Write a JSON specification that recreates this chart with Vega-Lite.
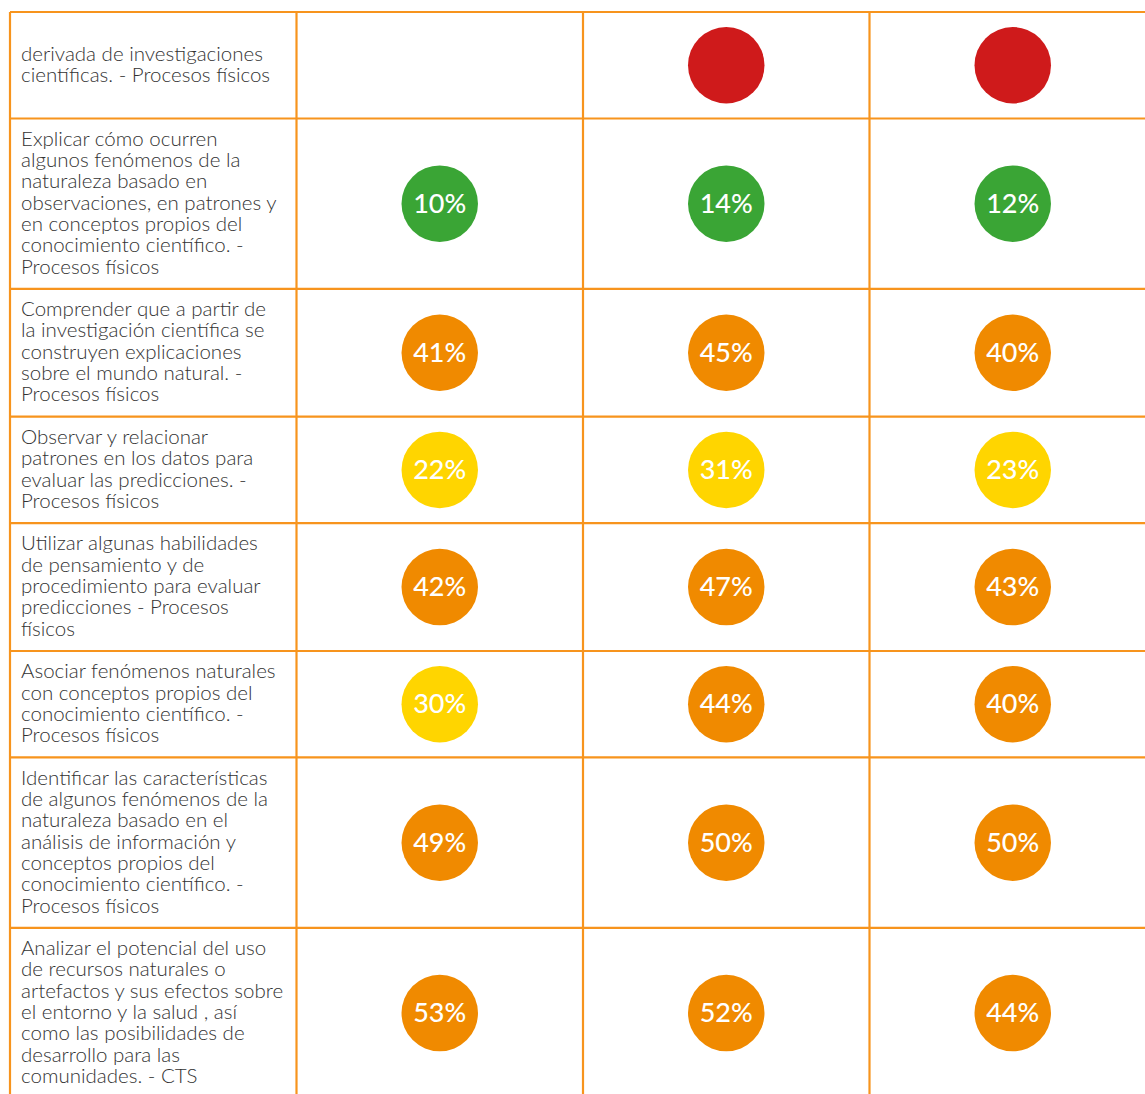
{
  "$schema": "https://vega.github.io/schema/vega-lite/v6.json",
  "width": 1146,
  "height": 1082,
  "autosize": {"type": "none"},
  "padding": {"left": 10, "top": 12, "right": 0, "bottom": 0},
  "background": "#ffffff",
  "config": {"view": {"stroke": null}},
  "datasets": {
    "filas": [
      {"fila": 1, "alto": 5, "texto": ["", "derivada de investigaciones", "científicas. - Procesos físicos"]},
      {"fila": 2, "alto": 8, "texto": ["Explicar cómo ocurren", "algunos fenómenos de la", "naturaleza basado en", "observaciones, en patrones y", "en conceptos propios del", "conocimiento científico. -", "Procesos físicos"]},
      {"fila": 3, "alto": 6, "texto": ["Comprender que a partir de", "la investigación científica se", "construyen explicaciones", "sobre el mundo natural. -", "Procesos físicos"]},
      {"fila": 4, "alto": 5, "texto": ["Observar y relacionar", "patrones en los datos para", "evaluar las predicciones. -", "Procesos físicos"]},
      {"fila": 5, "alto": 6, "texto": ["Utilizar algunas habilidades", "de pensamiento y de", "procedimiento para  evaluar", "predicciones - Procesos", "físicos"]},
      {"fila": 6, "alto": 5, "texto": ["Asociar fenómenos naturales", "con conceptos propios del", "conocimiento científico. -", "Procesos físicos"]},
      {"fila": 7, "alto": 8, "texto": ["Identificar las características", "de algunos fenómenos de la", "naturaleza basado en el", "análisis de información  y", "conceptos propios del", "conocimiento científico. -", "Procesos físicos"]},
      {"fila": 8, "alto": 8, "texto": ["Analizar  el potencial del uso", "de recursos  naturales  o", "artefactos  y sus efectos sobre", "el entorno y la salud , así", "como las posibilidades de", "desarrollo para las", "comunidades. - CTS"]}
    ],
    "celdas": [
      {"fila": 1, "columna": "A", "valor": null, "nivel": "vacio"},
      {"fila": 1, "columna": "B", "valor": null, "nivel": "rojo"},
      {"fila": 1, "columna": "C", "valor": null, "nivel": "rojo"},
      {"fila": 2, "columna": "A", "valor": 0.10, "nivel": "verde"},
      {"fila": 2, "columna": "B", "valor": 0.14, "nivel": "verde"},
      {"fila": 2, "columna": "C", "valor": 0.12, "nivel": "verde"},
      {"fila": 3, "columna": "A", "valor": 0.41, "nivel": "naranja"},
      {"fila": 3, "columna": "B", "valor": 0.45, "nivel": "naranja"},
      {"fila": 3, "columna": "C", "valor": 0.40, "nivel": "naranja"},
      {"fila": 4, "columna": "A", "valor": 0.22, "nivel": "amarillo"},
      {"fila": 4, "columna": "B", "valor": 0.31, "nivel": "amarillo"},
      {"fila": 4, "columna": "C", "valor": 0.23, "nivel": "amarillo"},
      {"fila": 5, "columna": "A", "valor": 0.42, "nivel": "naranja"},
      {"fila": 5, "columna": "B", "valor": 0.47, "nivel": "naranja"},
      {"fila": 5, "columna": "C", "valor": 0.43, "nivel": "naranja"},
      {"fila": 6, "columna": "A", "valor": 0.30, "nivel": "amarillo"},
      {"fila": 6, "columna": "B", "valor": 0.44, "nivel": "naranja"},
      {"fila": 6, "columna": "C", "valor": 0.40, "nivel": "naranja"},
      {"fila": 7, "columna": "A", "valor": 0.49, "nivel": "naranja"},
      {"fila": 7, "columna": "B", "valor": 0.50, "nivel": "naranja"},
      {"fila": 7, "columna": "C", "valor": 0.50, "nivel": "naranja"},
      {"fila": 8, "columna": "A", "valor": 0.53, "nivel": "naranja"},
      {"fila": 8, "columna": "B", "valor": 0.52, "nivel": "naranja"},
      {"fila": 8, "columna": "C", "valor": 0.44, "nivel": "naranja"}
    ]
  },
  "data": {"name": "filas"},
  "layer": [
    {
      "data": {"values": [{"columna": "Aprendizaje"}, {"columna": "A"}, {"columna": "B"}, {"columna": "C"}]},
      "mark": {"type": "rule", "color": "#F7941D", "strokeWidth": 2.2},
      "encoding": {
        "x": {"field": "columna", "type": "nominal", "bandPosition": 0, "axis": null,
              "scale": {"domain": ["Aprendizaje", "A", "B", "C"], "paddingInner": 0, "paddingOuter": 0}}
      }
    },
    {
      "mark": {"type": "rule", "color": "#F7941D", "strokeWidth": 2.2},
      "encoding": {
        "y": {"field": "alto", "type": "quantitative", "stack": "zero", "bandPosition": 0, "axis": null,
              "scale": {"domain": [0, 50.8], "reverse": true, "nice": false, "zero": false}},
        "order": {"field": "fila", "type": "quantitative"}
      }
    },
    {
      "mark": {"type": "text", "align": "left", "baseline": "middle", "dx": 11, "dy": 21.3, "font": "Lato", "fontWeight": 300, "fontSize": 20.5, "lineHeight": 21.3, "color": "#333333"},
      "encoding": {
        "x": {"datum": "Aprendizaje", "type": "nominal", "bandPosition": 0},
        "y": {"field": "alto", "type": "quantitative", "stack": "zero", "bandPosition": 0},
        "order": {"field": "fila", "type": "quantitative"},
        "text": {"field": "texto"}
      }
    },
    {
      "data": {"name": "celdas"},
      "transform": [{"lookup": "fila", "from": {"data": {"name": "filas"}, "key": "fila", "fields": ["alto"]}}],
      "mark": {"type": "point", "shape": "circle", "filled": true, "opacity": 1, "size": 5850, "strokeWidth": 0},
      "encoding": {
        "x": {"field": "columna", "type": "nominal"},
        "y": {"field": "alto", "type": "quantitative", "stack": "zero", "bandPosition": 0.5},
        "order": {"field": "fila", "type": "quantitative"},
        "color": {"field": "nivel", "type": "nominal", "legend": null,
                  "scale": {"domain": ["verde", "amarillo", "naranja", "rojo", "vacio"],
                            "range": ["#3AA535", "#FFD500", "#F08A00", "#CF1A1B", "rgba(255,255,255,0)"]}}
      }
    },
    {
      "data": {"name": "celdas"},
      "transform": [{"lookup": "fila", "from": {"data": {"name": "filas"}, "key": "fila", "fields": ["alto"]}}],
      "mark": {"type": "text", "align": "center", "baseline": "middle", "dy": 1, "font": "Lato", "fontWeight": 500, "fontSize": 27, "color": "#ffffff"},
      "encoding": {
        "x": {"field": "columna", "type": "nominal"},
        "y": {"field": "alto", "type": "quantitative", "stack": "zero", "bandPosition": 0.5},
        "order": {"field": "fila", "type": "quantitative"},
        "text": {"condition": {"test": "datum.valor == null", "value": ""}, "field": "valor", "type": "quantitative", "format": ".0%"}
      }
    }
  ]
}
